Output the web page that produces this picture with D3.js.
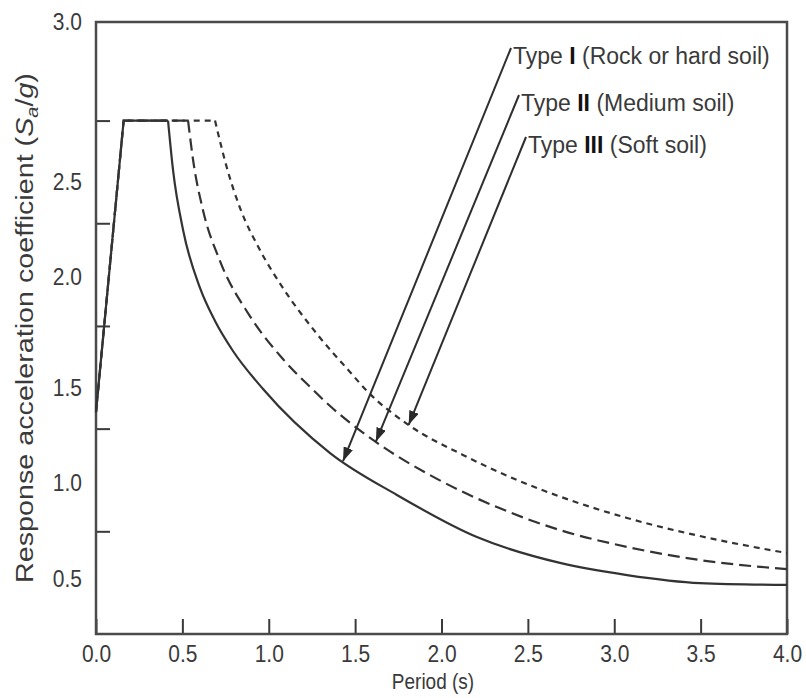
<!DOCTYPE html>
<html>
<head>
<meta charset="utf-8">
<script src="https://cdn.jsdelivr.net/npm/d3@7"></script>
<style>
  body { margin: 0; background: #fff; }
  svg { display: block; }
  text { font-family: "Liberation Sans", Arial, sans-serif; fill: #3a3a3a; }
</style>
</head>
<body>
<svg></svg>
<script>
// values (period in s, Sa/g)
var periodsI = [0, 0.16, 0.417, 0.446, 0.504, 0.602, 0.689, 0.793, 0.967, 1.355, 1.742, 2.205, 2.686, 3.074, 3.496, 4.0];
var saI      = [1.08, 2.5, 2.5, 2.259, 1.967, 1.685, 1.524, 1.378, 1.193, 0.881, 0.677, 0.472, 0.346, 0.287, 0.248, 0.239];

var periodsII = [0, 0.16, 0.533, 0.562, 0.619, 0.718, 0.891, 1.082, 1.239, 1.355, 1.603, 1.933, 2.321, 2.686, 3.074, 3.496, 4.0];
var saII      = [1.08, 2.5, 2.5, 2.308, 2.065, 1.816, 1.548, 1.339, 1.203, 1.110, 0.945, 0.774, 0.618, 0.506, 0.424, 0.360, 0.316];

var periodsIII = [0, 0.16, 0.689, 0.758, 0.834, 0.949, 1.082, 1.279, 1.47, 1.569, 1.8, 2.124, 2.437, 2.744, 3.074, 3.496, 4.0];
var saIII      = [1.08, 2.5, 2.5, 2.269, 2.074, 1.87, 1.685, 1.461, 1.276, 1.183, 1.023, 0.872, 0.75, 0.652, 0.565, 0.477, 0.394];

var typeNumerals = ["I", "II", "III"];
var soilNames = ["Rock or hard soil", "Medium soil", "Soft soil"];
var arrowPeriods = [1.43, 1.62, 1.81];

var xTicks = [0, 0.5, 1, 1.5, 2, 2.5, 3, 3.5, 4];
var yTicks = [0.5, 1, 1.5, 2, 2.5];
var yLabels = ["3.0", "2.5", "2.0", "1.5", "1.0", "0.5"];
var yLabelAt = [2.98, 2.2, 1.74, 1.2, 0.735, 0.27];

var unit = {width: 806, height: 698};
var svg = d3.select('svg')
			.attr('width', unit.width)
			.attr('height', unit.height);

var x = d3.scaleLinear().domain([0, 4]).range([96, 787]);
var y = d3.scaleLinear().domain([0, 2.98]).range([634, 22]);

var ink = '#3a3a3a';

// axes
var gx = svg.append('g')
			.attr('transform', 'translate(0,' + y(0) + ')')
			.call(d3.axisBottom(x).tickValues(xTicks).tickSizeInner(-15).tickSizeOuter(0)
					.tickPadding(13).tickFormat(d3.format('.1f')));
gx.select('.domain').remove();
gx.attr('font-size', 21).attr('font-family', null).style('color', ink);
gx.selectAll('line').attr('stroke-width', 2);
gx.selectAll('text').attr('dy', null).attr('y', 0)
	.attr('transform', 'translate(0,28) scale(1,1.12)');

var gy = svg.append('g')
			.attr('transform', 'translate(' + x(0) + ',0)')
			.call(d3.axisLeft(y).tickValues(yTicks).tickSizeInner(-14).tickSizeOuter(0).tickFormat(''));
gy.select('.domain').remove();
gy.style('color', ink);
gy.selectAll('line').attr('stroke-width', 2);

svg.append('g').selectAll('text')
	.data(yLabels)
	.enter()
	.append('text')
	.attr('text-anchor', 'end')
	.attr('font-size', 21)
	.attr('transform', (d, i) => 'translate(82,' + (y(yLabelAt[i]) + 8) + ') scale(1,1.12)')
	.text((d) => d);

// frame
svg.append('rect')
	.attr('x', x(0)).attr('y', y(2.98))
	.attr('width', x(4) - x(0)).attr('height', y(0) - y(2.98))
	.attr('fill', 'none')
	.attr('stroke', '#4a4a4a')
	.attr('stroke-width', 2.5);

// curves
var series = [
	{t: periodsIII, v: saIII, dash: '6,5'},
	{t: periodsII, v: saII, dash: '12,6'},
	{t: periodsI, v: saI, dash: null}
];

var straight = d3.line().x((d) => x(d[0])).y((d) => y(d[1]));
var smooth = d3.line().x((d) => x(d[0])).y((d) => y(d[1])).curve(d3.curveMonotoneX);

series.forEach(function(s){
	var pts = s.t.map((t, i) => [t, s.v[i]]);
	var top = d3.max(s.v);
	var knee = s.v.lastIndexOf(top);
	svg.append('path')
		.attr('d', straight(pts.slice(0, knee + 1)) + smooth(pts.slice(knee)))
		.attr('fill', 'none')
		.attr('stroke', '#333')
		.attr('stroke-width', 2.2)
		.attr('stroke-dasharray', s.dash);
});

// arrows + labels
svg.append('defs').append('marker')
	.attr('id', 'head')
	.attr('markerUnits', 'userSpaceOnUse')
	.attr('viewBox', '0 0 14 10')
	.attr('refX', 14).attr('refY', 5)
	.attr('markerWidth', 14).attr('markerHeight', 10)
	.attr('orient', 'auto')
	.append('path')
	.attr('d', 'M0,0 L14,5 L0,10 Z')
	.attr('fill', '#2a2a2a');

function valueAt(ts, vs, t){
	var i = d3.bisectRight(ts, t);
	return vs[i - 1] + (vs[i] - vs[i - 1]) * (t - ts[i - 1]) / (ts[i] - ts[i - 1]);
}

var curveFor = [[periodsI, saI], [periodsII, saII], [periodsIII, saIII]];
var labelX = [513, 521, 528];
var labelY = [64, 111, 153];

typeNumerals.forEach(function(num, i){
	var tp = arrowPeriods[i];
	var vp = valueAt(curveFor[i][0], curveFor[i][1], tp);
	svg.append('line')
		.attr('x1', labelX[i] - 2).attr('y1', labelY[i] - 16)
		.attr('x2', x(tp)).attr('y2', y(vp))
		.attr('stroke', '#2e2e2e')
		.attr('stroke-width', 2)
		.attr('marker-end', 'url(#head)');

	var txt = svg.append('text')
		.attr('transform', 'translate(' + labelX[i] + ',' + labelY[i] + ') scale(1,1.08)')
		.attr('font-size', 23);
	txt.append('tspan').text('Type ');
	txt.append('tspan').attr('font-weight', 'bold').style('fill', '#111').text(num);
	txt.append('tspan').text(' (' + soilNames[i] + ')');
});

// axis titles
svg.append('text')
	.attr('text-anchor', 'middle')
	.attr('font-size', 19)
	.attr('transform', 'translate(433,689) scale(1,1.18)')
	.text('Period (s)');

var ty = svg.append('text')
	.attr('text-anchor', 'middle')
	.attr('font-size', 23);
ty.append('tspan').text('Response acceleration coefficient (');
ty.append('tspan').attr('font-style', 'italic').text('S');
ty.append('tspan').attr('font-style', 'italic').attr('font-size', 16).attr('dy', 5).text('a');
ty.append('tspan').attr('dy', -5).text('/');
ty.append('tspan').attr('font-style', 'italic').text('g');
ty.append('tspan').text(')');
var natural = ty.node().getComputedTextLength();
ty.attr('transform', 'translate(33,328) rotate(-90) scale(' + (510 / natural) + ',1)');
</script>
</body>
</html>
